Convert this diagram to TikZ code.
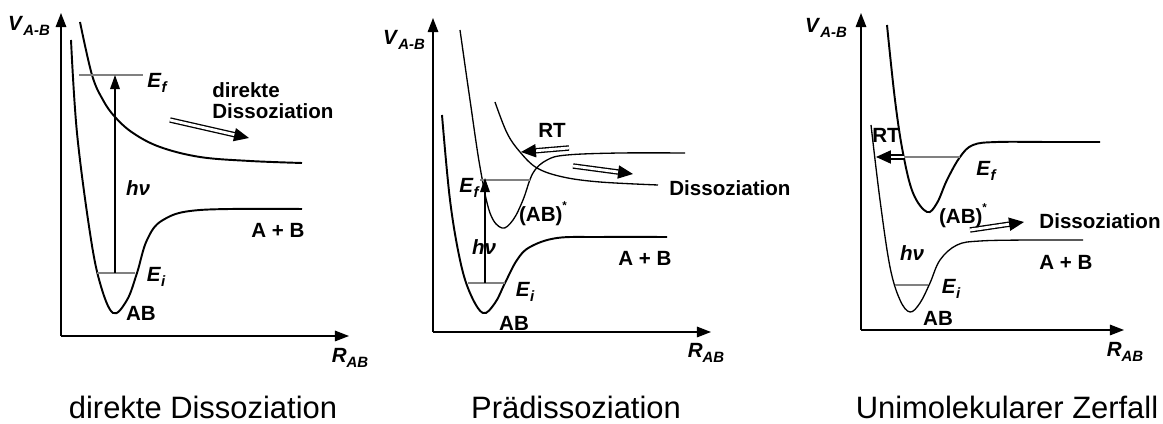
\documentclass[tikz,border=0pt]{standalone}
\usepackage{fontspec}
\setmainfont{Liberation Sans}
\usetikzlibrary{arrows.meta}
\newcommand{\sublab}[2]{\textit{#1}\raisebox{-0.45ex}{\fontsize{8.5}{9}\selectfont\itshape #2}}
\newcommand{\abstar}{(AB)\raisebox{1.1ex}{\fontsize{6.5}{7}\selectfont *}}
\tikzset{
  lbl/.style={font=\fontsize{11.7}{13}\selectfont\bfseries, inner sep=0pt},
  caption/.style={font=\fontsize{17.6}{20}\selectfont, inner sep=0pt, anchor=base},
  axis/.style={line width=0.8pt, -{Triangle[length=8pt,width=6pt]}},
  pes/.style={line width=1.1pt},
  thinpes/.style={line width=0.75pt},
  level/.style={draw=gray, line width=0.7pt},
  excite/.style={line width=0.7pt, -{Triangle[length=8pt,width=5.5pt]}},
  dbl/.style={double, double distance=1.6pt, line width=0.75pt, -{Triangle[length=8.5pt,width=7.5pt]}},
}
\begin{document}
\begin{tikzpicture}[x=0.2mm, y=-0.2mm]
\useasboundingbox (0,0) rectangle (1163,424);

%% ---------------- Panel 1 ----------------
\coordinate (o1) at (61,336);
\coordinate (y1) at (61,13);
\coordinate (x1) at (349,336);
\draw[axis] (o1) -- (y1);
\draw[axis] (o1) -- (x1);
\draw[pes] plot[smooth, tension=0.6] coordinates {(71,40) (77,133) (90,233) (100,283) (113,313) (127,300) (137,273) (147,240) (163,220) (200,210) (302,209)};
\draw[pes] plot[smooth, tension=0.6] coordinates {(80,22) (92,75) (103,100) (115,117) (133,133) (160,147) (200,157) (250,161) (302,163)};
\coordinate (ef1a) at (79,75);
\coordinate (ef1b) at (143,75);
\coordinate (ei1a) at (97,273);
\coordinate (ei1b) at (135,273);
\coordinate (hv1s) at (115,273);
\coordinate (hv1e) at (115,75);
\draw[level] (ef1a) -- (ef1b);
\draw[level] (ei1a) -- (ei1b);
\draw[excite] (hv1s) -- (hv1e);
\coordinate (d1s) at (170,120);
\coordinate (d1e) at (249,138);
\draw[dbl] (d1s) -- (d1e);
\node[lbl] (v1) at (29,26) {\sublab{V}{A-B}};
\node[lbl] (r1) at (350,358) {\sublab{R}{AB}};
\node[lbl] (ef1) at (157,83) {\sublab{E}{f}};
\node[lbl] (ei1) at (156,277) {\sublab{E}{i}};
\node[lbl] (hv1) at (138,188) {\textit{hν}};
\node[lbl] (ab1) at (141,313) {AB};
\node[lbl] (apb1) at (278,230) {A + B};
\node[lbl, anchor=west] (dir1) at (212,90) {direkte};
\node[lbl, anchor=west] (dis1) at (212,111) {Dissoziation};
\node[caption] (c1) at (203,419) {direkte Dissoziation};

%% ---------------- Panel 2 ----------------
\coordinate (o2) at (433,332);
\coordinate (y2) at (433,18);
\coordinate (x2) at (711,332);
\draw[axis] (o2) -- (y2);
\draw[axis] (o2) -- (x2);
\draw[pes] plot[smooth, tension=0.6] coordinates {(442,115) (450,200) (460,260) (470,293) (483,313) (495,303) (505,283) (517,260) (530,247) (557,238) (600,237) (667,237)};
\draw[thinpes] plot[smooth, tension=0.6] coordinates {(460,30) (470,100) (480,167) (490,213) (502,228) (513,220) (523,200) (533,173) (547,160) (567,155) (620,153) (685,153)};
\draw[thinpes] plot[smooth, tension=0.6] coordinates {(495,102) (507,133) (520,152) (537,168) (563,177) (600,182) (658,185)};
\coordinate (ef2a) at (480,180);
\coordinate (ef2b) at (530,180);
\coordinate (ei2a) at (468,283);
\coordinate (ei2b) at (505,283);
\coordinate (hv2s) at (485,283);
\coordinate (hv2e) at (485,178);
\draw[level] (ef2a) -- (ef2b);
\draw[level] (ei2a) -- (ei2b);
\draw[excite] (hv2s) -- (hv2e);
\coordinate (rt2s) at (569,148);
\coordinate (rt2e) at (521,152);
\draw[dbl] (rt2s) -- (rt2e);
\coordinate (d2s) at (573,166);
\coordinate (d2e) at (633,174);
\draw[dbl] (d2s) -- (d2e);
\node[lbl] (v2) at (404,40) {\sublab{V}{A-B}};
\node[lbl] (r2) at (706,353) {\sublab{R}{AB}};
\node[lbl] (ef2) at (469,188) {\sublab{E}{f}};
\node[lbl] (ei2) at (525,292) {\sublab{E}{i}};
\node[lbl] (hv2) at (484,247) {\textit{hν}};
\node[lbl] (abs2) at (543,214) {\abstar};
\node[lbl] (ab2) at (514,323) {AB};
\node[lbl] (apb2) at (645,258) {A + B};
\node[lbl] (rt2) at (552,130) {RT};
\node[lbl, anchor=west] (dis2) at (669,188) {Dissoziation};
\node[caption] (c2) at (576,419) {Prädissoziation};

%% ---------------- Panel 3 ----------------
\coordinate (o3) at (861,330);
\coordinate (y3) at (861,13);
\coordinate (x3) at (1124,330);
\draw[axis] (o3) -- (y3);
\draw[axis] (o3) -- (x3);
\draw[thinpes] plot[smooth, tension=0.6] coordinates {(871,125) (880,200) (890,267) (900,300) (910,312) (920,303) (930,283) (940,260) (957,245) (980,241) (1030,240) (1083,240)};
\draw[pes] plot[smooth, tension=0.6] coordinates {(887,25) (895,100) (903,153) (913,193) (927,212) (937,203) (947,180) (960,157) (973,145) (997,142) (1050,142) (1100,142)};
\coordinate (ef3a) at (885,157);
\coordinate (ef3b) at (960,157);
\coordinate (ei3a) at (895,285);
\coordinate (ei3b) at (928,285);
\draw[level] (ef3a) -- (ef3b);
\draw[level] (ei3a) -- (ei3b);
\coordinate (rt3s) at (904,157);
\coordinate (rt3e) at (876,157);
\draw[dbl] (rt3s) -- (rt3e);
\coordinate (d3s) at (970,230);
\coordinate (d3e) at (1024,222);
\draw[dbl] (d3s) -- (d3e);
\node[lbl] (v3) at (826,28) {\sublab{V}{A-B}};
\node[lbl] (r3) at (1125,352) {\sublab{R}{AB}};
\node[lbl] (rt3) at (886,135) {RT};
\node[lbl] (ef3) at (986,171) {\sublab{E}{f}};
\node[lbl] (abs3) at (963,216) {\abstar};
\node[lbl] (dis3) at (1100,221) {Dissoziation};
\node[lbl] (hv3) at (912,253) {\textit{hν}};
\node[lbl] (apb3) at (1066,262) {A + B};
\node[lbl] (ei3) at (951,289) {\sublab{E}{i}};
\node[lbl] (ab3) at (938,318) {AB};
\node[caption] (c3) at (1007,419) {Unimolekularer Zerfall};
\end{tikzpicture}
\end{document}
